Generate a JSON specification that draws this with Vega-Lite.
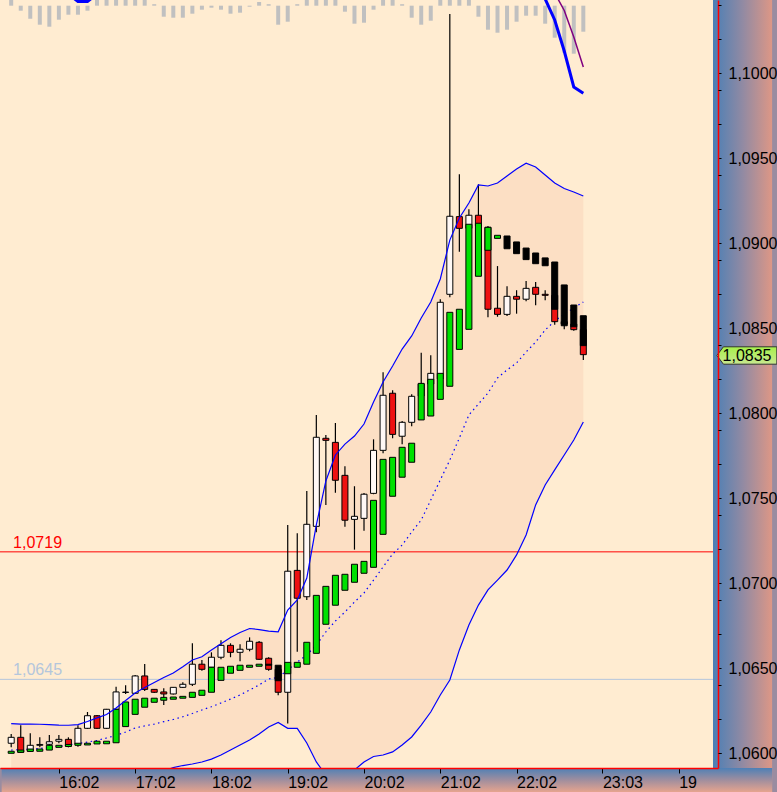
{
  "$schema": "https://vega.github.io/schema/vega-lite/v6.json",
  "width": 718,
  "height": 768,
  "autosize": {"type": "none"},
  "padding": {"left": 0, "top": 0, "right": 59, "bottom": 24},
  "background": "#9A8CA0",
  "view": {"fill": "#FFECD1", "stroke": null},
  "config": {"font": "Liberation Sans", "axis": {"labelOverlap": false}},
  "datasets": {
    "bars": [
      {"k":0,"o":1.06059,"h":1.06114,"l":1.06035,"c":1.06094,"bo":1.06000,"bc":1.06012,"u":1.06175,"m":1.06019,"lo":1.05861,"hi":10,"ib":25},
      {"k":1,"o":1.06094,"h":1.06165,"l":1.06002,"c":1.06006,"bo":1.06006,"bc":1.06019,"u":1.06172,"m":1.06022,"lo":1.05867,"hi":-5,"ib":22},
      {"k":2,"o":1.06014,"h":1.06118,"l":1.06008,"c":1.06047,"bo":1.06011,"bc":1.06025,"u":1.06172,"m":1.06025,"lo":1.05872,"hi":-13,"ib":20},
      {"k":3,"o":1.06047,"h":1.06094,"l":1.06035,"c":1.06052,"bo":1.06012,"bc":1.06025,"u":1.06171,"m":1.06029,"lo":1.05884,"hi":-19,"ib":18},
      {"k":4,"o":1.06053,"h":1.06108,"l":1.06043,"c":1.06068,"bo":1.06019,"bc":1.06047,"u":1.06169,"m":1.06034,"lo":1.05896,"hi":-21,"ib":16},
      {"k":5,"o":1.06071,"h":1.06108,"l":1.06059,"c":1.06082,"bo":1.06035,"bc":1.06047,"u":1.06166,"m":1.06040,"lo":1.05902,"hi":-14,"ib":14},
      {"k":6,"o":1.06082,"h":1.06094,"l":1.06035,"c":1.06043,"bo":1.06040,"bc":1.06052,"u":1.06165,"m":1.06049,"lo":1.05902,"hi":-9,"ib":11.7},
      {"k":7,"o":1.06053,"h":1.06165,"l":1.06039,"c":1.06147,"bo":1.06047,"bc":1.06059,"u":1.06169,"m":1.06058,"lo":1.05890,"hi":-9,"ib":4.2},
      {"k":8,"o":1.06147,"h":1.06243,"l":1.06143,"c":1.06221,"bo":1.06049,"bc":1.06059,"u":1.06187,"m":1.06066,"lo":1.05872,"hi":-5,"ib":4.2},
      {"k":9,"o":1.06221,"h":1.06225,"l":1.06143,"c":1.06147,"bo":1.06055,"bc":1.06071,"u":1.06208,"m":1.06076,"lo":1.05855,"hi":10,"ib":11.7},
      {"k":10,"o":1.06147,"h":1.06261,"l":1.06143,"c":1.06259,"bo":1.06056,"bc":1.06071,"u":1.06228,"m":1.06090,"lo":1.05837,"hi":10,"ib":25},
      {"k":11,"o":1.06259,"h":1.06392,"l":1.06255,"c":1.06361,"bo":1.06062,"bc":1.06259,"u":1.06267,"m":1.06105,"lo":1.05819,"hi":10,"ib":28},
      {"k":12,"o":1.06358,"h":1.06400,"l":1.06349,"c":1.06360,"bo":1.06157,"bc":1.06302,"u":1.06311,"m":1.06125,"lo":1.05814,"hi":10,"ib":30},
      {"k":13,"o":1.06353,"h":1.06461,"l":1.06349,"c":1.06455,"bo":1.06229,"bc":1.06318,"u":1.06355,"m":1.06149,"lo":1.05825,"hi":10,"ib":32},
      {"k":14,"o":1.06455,"h":1.06525,"l":1.06366,"c":1.06376,"bo":1.06271,"bc":1.06324,"u":1.06387,"m":1.06161,"lo":1.05843,"hi":10,"ib":30},
      {"k":15,"o":1.06376,"h":1.06378,"l":1.06355,"c":1.06359,"bo":1.06300,"bc":1.06324,"u":1.06417,"m":1.06172,"lo":1.05867,"hi":1.5,"ib":28},
      {"k":16,"o":1.06361,"h":1.06382,"l":1.06284,"c":1.06349,"bo":1.06312,"bc":1.06329,"u":1.06446,"m":1.06186,"lo":1.05896,"hi":-11,"ib":26},
      {"k":17,"o":1.06349,"h":1.06390,"l":1.06346,"c":1.06388,"bo":1.06318,"bc":1.06331,"u":1.06472,"m":1.06199,"lo":1.05916,"hi":-12,"ib":24},
      {"k":18,"o":1.06388,"h":1.06418,"l":1.06384,"c":1.06406,"bo":1.06324,"bc":1.06335,"u":1.06509,"m":1.06215,"lo":1.05928,"hi":-12,"ib":22},
      {"k":19,"o":1.06406,"h":1.06647,"l":1.06396,"c":1.06524,"bo":1.06329,"bc":1.06359,"u":1.06549,"m":1.06234,"lo":1.05937,"hi":-8,"ib":22},
      {"k":20,"o":1.06524,"h":1.06549,"l":1.06486,"c":1.06494,"bo":1.06341,"bc":1.06371,"u":1.06568,"m":1.06255,"lo":1.05949,"hi":-4,"ib":22},
      {"k":21,"o":1.06506,"h":1.06594,"l":1.06502,"c":1.06565,"bo":1.06359,"bc":1.06506,"u":1.06608,"m":1.06274,"lo":1.05966,"hi":-2,"ib":24},
      {"k":22,"o":1.06565,"h":1.06665,"l":1.06553,"c":1.06635,"bo":1.06429,"bc":1.06506,"u":1.06645,"m":1.06296,"lo":1.05990,"hi":-4,"ib":26},
      {"k":23,"o":1.06635,"h":1.06647,"l":1.06565,"c":1.06594,"bo":1.06471,"bc":1.06512,"u":1.06681,"m":1.06319,"lo":1.06019,"hi":-8,"ib":26},
      {"k":24,"o":1.06594,"h":1.06641,"l":1.06541,"c":1.06612,"bo":1.06488,"bc":1.06518,"u":1.06711,"m":1.06343,"lo":1.06049,"hi":-7,"ib":26},
      {"k":25,"o":1.06612,"h":1.06682,"l":1.06600,"c":1.06659,"bo":1.06506,"bc":1.06518,"u":1.06734,"m":1.06372,"lo":1.06078,"hi":-1,"ib":26},
      {"k":26,"o":1.06653,"h":1.06661,"l":1.06549,"c":1.06553,"bo":1.06512,"bc":1.06524,"u":1.06728,"m":1.06402,"lo":1.06114,"hi":3.7,"ib":26},
      {"k":27,"o":1.06559,"h":1.06565,"l":1.06486,"c":1.06494,"bo":1.06524,"bc":1.06518,"u":1.06719,"m":1.06437,"lo":1.06155,"hi":1.5,"ib":26},
      {"k":28,"o":1.06494,"h":1.06514,"l":1.06341,"c":1.06359,"bo":1.06518,"bc":1.06427,"u":1.06715,"m":1.06447,"lo":1.06181,"hi":-19,"ib":24},
      {"k":29,"o":1.06359,"h":1.07343,"l":1.06176,"c":1.07071,"bo":1.06468,"bc":1.06535,"u":1.06843,"m":1.06490,"lo":1.06147,"hi":-16,"ib":24},
      {"k":30,"o":1.07076,"h":1.07294,"l":1.06598,"c":1.06912,"bo":1.06506,"bc":1.06535,"u":1.06902,"m":1.06537,"lo":1.06147,"hi":1.5,"ib":26},
      {"k":31,"o":1.06921,"h":1.07543,"l":1.06902,"c":1.07347,"bo":1.06524,"bc":1.06653,"u":1.07031,"m":1.06578,"lo":1.06061,"hi":10,"ib":30},
      {"k":32,"o":1.07335,"h":1.07990,"l":1.07300,"c":1.07859,"bo":1.06588,"bc":1.06929,"u":1.07343,"m":1.06637,"lo":1.05949,"hi":10,"ib":34},
      {"k":33,"o":1.07853,"h":1.07872,"l":1.07461,"c":1.07841,"bo":1.06759,"bc":1.06982,"u":1.07602,"m":1.06714,"lo":1.05872,"hi":10,"ib":36},
      {"k":34,"o":1.07829,"h":1.07943,"l":1.07533,"c":1.07606,"bo":1.06871,"bc":1.07047,"u":1.07755,"m":1.06778,"lo":1.05843,"hi":10,"ib":36},
      {"k":35,"o":1.07635,"h":1.07688,"l":1.07333,"c":1.07371,"bo":1.06959,"bc":1.07053,"u":1.07819,"m":1.06831,"lo":1.05855,"hi":-6,"ib":34},
      {"k":36,"o":1.07376,"h":1.07571,"l":1.07198,"c":1.07394,"bo":1.07006,"bc":1.07112,"u":1.07866,"m":1.06890,"lo":1.05902,"hi":-18,"ib":32},
      {"k":37,"o":1.07382,"h":1.07531,"l":1.07309,"c":1.07524,"bo":1.07059,"bc":1.07129,"u":1.07937,"m":1.06943,"lo":1.05949,"hi":-17,"ib":30},
      {"k":38,"o":1.07529,"h":1.07847,"l":1.07524,"c":1.07782,"bo":1.07094,"bc":1.07488,"u":1.08066,"m":1.07019,"lo":1.05981,"hi":-4,"ib":30},
      {"k":39,"o":1.07782,"h":1.08241,"l":1.07765,"c":1.08106,"bo":1.07288,"bc":1.07729,"u":1.08184,"m":1.07096,"lo":1.05990,"hi":10,"ib":32},
      {"k":40,"o":1.08118,"h":1.08135,"l":1.07853,"c":1.07876,"bo":1.07512,"bc":1.07741,"u":1.08278,"m":1.07172,"lo":1.06008,"hi":10,"ib":34},
      {"k":41,"o":1.07865,"h":1.07955,"l":1.07818,"c":1.07947,"bo":1.07624,"bc":1.07800,"u":1.08378,"m":1.07225,"lo":1.06049,"hi":1.5,"ib":34},
      {"k":42,"o":1.07947,"h":1.08112,"l":1.07924,"c":1.08100,"bo":1.07712,"bc":1.07824,"u":1.08455,"m":1.07302,"lo":1.06096,"hi":-12,"ib":32},
      {"k":43,"o":1.08102,"h":1.08356,"l":1.08090,"c":1.08172,"bo":1.07961,"bc":1.08176,"u":1.08561,"m":1.07372,"lo":1.06166,"hi":-19,"ib":30},
      {"k":44,"o":1.08172,"h":1.08341,"l":1.08161,"c":1.08235,"bo":1.07984,"bc":1.08200,"u":1.08655,"m":1.07490,"lo":1.06243,"hi":-15,"ib":30},
      {"k":45,"o":1.08202,"h":1.08671,"l":1.08190,"c":1.08653,"bo":1.08082,"bc":1.08235,"u":1.08790,"m":1.07608,"lo":1.06343,"hi":10,"ib":32},
      {"k":46,"o":1.08700,"h":1.10349,"l":1.08682,"c":1.09159,"bo":1.08159,"bc":1.08594,"u":1.09019,"m":1.07725,"lo":1.06431,"hi":10,"ib":34},
      {"k":47,"o":1.09157,"h":1.09406,"l":1.08951,"c":1.09088,"bo":1.08376,"bc":1.08612,"u":1.09149,"m":1.07855,"lo":1.06608,"hi":10,"ib":36},
      {"k":48,"o":1.09088,"h":1.09200,"l":1.09072,"c":1.09165,"bo":1.08494,"bc":1.09112,"u":1.09237,"m":1.07990,"lo":1.06755,"hi":10,"ib":36},
      {"k":49,"o":1.09165,"h":1.09347,"l":1.09090,"c":1.09102,"bo":1.08806,"bc":1.09118,"u":1.09343,"m":1.08055,"lo":1.06872,"hi":-11,"ib":34},
      {"k":50,"o":1.09094,"h":1.09102,"l":1.08565,"c":1.08612,"bo":1.08959,"bc":1.09094,"u":1.09337,"m":1.08119,"lo":1.06961,"hi":-24,"ib":32},
      {"k":51,"o":1.08618,"h":1.08866,"l":1.08568,"c":1.08582,"bo":1.09029,"bc":1.09047,"u":1.09355,"m":1.08208,"lo":1.07019,"hi":-27,"ib":30},
      {"k":52,"o":1.08582,"h":1.08747,"l":1.08572,"c":1.08688,"bo":1.09043,"bc":1.08968,"u":1.09396,"m":1.08255,"lo":1.07078,"hi":-24,"ib":28},
      {"k":53,"o":1.08688,"h":1.08724,"l":1.08586,"c":1.08671,"bo":1.09008,"bc":1.08939,"u":1.09437,"m":1.08296,"lo":1.07167,"hi":-16,"ib":26},
      {"k":54,"o":1.08671,"h":1.08778,"l":1.08659,"c":1.08735,"bo":1.08972,"bc":1.08904,"u":1.09471,"m":1.08361,"lo":1.07284,"hi":-10,"ib":24},
      {"k":55,"o":1.08741,"h":1.08772,"l":1.08635,"c":1.08700,"bo":1.08943,"bc":1.08880,"u":1.09449,"m":1.08419,"lo":1.07461,"hi":-10,"ib":15},
      {"k":56,"o":1.08700,"h":1.08724,"l":1.08665,"c":1.08694,"bo":1.08914,"bc":1.08868,"u":1.09402,"m":1.08490,"lo":1.07578,"hi":-18,"ib":6.7,"ip":25},
      {"k":57,"o":1.08694,"h":1.08708,"l":1.08521,"c":1.08539,"bo":1.08890,"bc":1.08612,"u":1.09355,"m":1.08543,"lo":1.07667,"hi":-32,"ib":-14.3,"ip":12.7},
      {"k":58,"o":1.08539,"h":1.08561,"l":1.08494,"c":1.08525,"bo":1.08755,"bc":1.08515,"u":1.09322,"m":1.08584,"lo":1.07755,"hi":-47,"ib":-45.3,"ip":-4.8},
      {"k":59,"o":1.08525,"h":1.08549,"l":1.08486,"c":1.08492,"bo":1.08637,"bc":1.08509,"u":1.09302,"m":1.08619,"lo":1.07843,"hi":-48,"ib":-81.3,"ip":-31.3},
      {"k":60,"o":1.08492,"h":1.08549,"l":1.08314,"c":1.08345,"bo":1.08574,"bc":1.08398,"u":1.09278,"m":1.08655,"lo":1.07949,"hi":-26,"ib":-87.6,"ip":-61.3}
    ],
    "levels": [
      {"level": 1.07185, "label": "1,0719", "kind": "r"},
      {"level": 1.06435, "label": "1,0645", "kind": "g"}
    ],
    "last": [
      {"price": 1.0834, "label": "1,0835"}
    ]
  },
  "layer": [
    {
      "layer": [
        {
          "data": {"name": "bars"},
          "mark": {"type": "area", "clip": true, "color": "#FCDFC4"},
          "encoding": {
            "x": {"field": "k", "type": "quantitative",
              "scale": {"domain": [-0.65, 73.6], "nice": false, "zero": false},
              "axis": {"values": [5, 13, 21, 29, 37, 45, 53, 62, 70],
                "labelExpr": "datum.value == 5 ? '16:02' : datum.value == 13 ? '17:02' : datum.value == 21 ? '18:02' : datum.value == 29 ? '19:02' : datum.value == 37 ? '20:02' : datum.value == 45 ? '21:02' : datum.value == 53 ? '22:02' : datum.value == 62 ? '23:03' : datum.value == 70 ? '19' : ''",
                "title": null, "grid": false, "domainColor": "#FF0000", "domainWidth": 1.5,
                "tickColor": "#000000", "tickSize": 5, "tickWidth": 1,
                "labelFont": "Liberation Sans", "labelFontSize": 16, "labelColor": "#000000",
                "labelAlign": "left", "labelDx": 2, "labelPadding": 1, "labelBaseline": "top",
                "labelFlush": false, "labelOverlap": false, "labelBound": false, "zindex": 1}},
            "y": {"field": "u", "type": "quantitative",
              "scale": {"domain": [1.059135, 1.104312], "nice": false, "zero": false},
              "axis": {"orient": "right",
                "values": [1.060, 1.065, 1.070, 1.075, 1.080, 1.085, 1.090, 1.095, 1.100],
                "labelExpr": "replace(format(datum.value, '.4f'), '.', ',')",
                "title": null, "grid": false, "domainColor": "#FF0000", "domainWidth": 1.5,
                "tickColor": "#000000", "tickSize": 3, "tickWidth": 1,
                "labelFont": "Liberation Sans", "labelFontSize": 16, "labelColor": "#000000",
                "labelPadding": 7, "labelFlush": false, "labelOverlap": false, "labelBound": false, "zindex": 1}},
            "y2": {"field": "lo"}
          }
        },
        {
          "data": {"name": "levels"},
          "mark": {"type": "rule", "strokeWidth": 1},
          "encoding": {
            "y": {"field": "level", "type": "quantitative"},
            "color": {"field": "kind", "type": "nominal", "scale": {"domain": ["r", "g"], "range": ["#FF0000", "#B4C6DC"]}, "legend": null}
          }
        },
        {
          "data": {"name": "levels"},
          "mark": {"type": "text", "align": "left", "baseline": "alphabetic", "dy": -4, "fontSize": 16, "font": "Liberation Sans"},
          "encoding": {
            "x": {"datum": 0.2},
            "y": {"field": "level", "type": "quantitative"},
            "text": {"field": "label"},
            "color": {"field": "kind", "type": "nominal", "legend": null}
          }
        },
        {
          "data": {"name": "bars"},
          "mark": {"type": "line", "clip": true, "color": "#0000FF", "strokeWidth": 1.2, "strokeDash": [1.5, 3.5]},
          "encoding": {
            "x": {"field": "k", "type": "quantitative"},
            "y": {"field": "m", "type": "quantitative"}
          }
        },
        {
          "data": {"name": "bars"},
          "mark": {"type": "rule", "color": "#000000", "strokeWidth": 1.2, "clip": true},
          "encoding": {
            "x": {"field": "k", "type": "quantitative"},
            "y": {"field": "l", "type": "quantitative"},
            "y2": {"field": "h"}
          }
        },
        {
          "data": {"name": "bars"},
          "mark": {"type": "bar", "size": 6, "stroke": "#000000", "strokeWidth": 1, "clip": true},
          "encoding": {
            "x": {"field": "k", "type": "quantitative"},
            "y": {"field": "o", "type": "quantitative"},
            "y2": {"field": "c"},
            "fill": {"condition": {"test": "datum.c < datum.o", "value": "#EE1111"}, "value": "#FFF8F5"}
          }
        },
        {
          "data": {"name": "bars"},
          "mark": {"type": "bar", "size": 6, "stroke": "#000000", "strokeWidth": 1, "clip": true},
          "encoding": {
            "x": {"field": "k", "type": "quantitative"},
            "y": {"field": "bo", "type": "quantitative"},
            "y2": {"field": "bc"},
            "fill": {"condition": {"test": "datum.bc > datum.bo", "value": "#00E000"}, "value": "#000000"}
          }
        },
        {
          "data": {"name": "bars"},
          "mark": {"type": "line", "clip": true, "color": "#0000FF", "strokeWidth": 1.2},
          "encoding": {
            "x": {"field": "k", "type": "quantitative"},
            "y": {"field": "u", "type": "quantitative"}
          }
        },
        {
          "data": {"name": "bars"},
          "mark": {"type": "line", "clip": true, "color": "#0000FF", "strokeWidth": 1.2},
          "encoding": {
            "x": {"field": "k", "type": "quantitative"},
            "y": {"field": "lo", "type": "quantitative"}
          }
        },
        {
          "data": {"name": "last"},
          "mark": {"type": "rect", "clip": false,
            "fill": {"gradient": "linear", "x1": 0, "y1": 0, "x2": 1, "y2": 0,
              "stops": [{"offset": 0, "color": "#4A7FB6"}, {"offset": 0.5, "color": "#918AA3"}, {"offset": 1, "color": "#DD9786"}]}},
          "encoding": {
            "x": {"datum": 73.6},
            "x2": {"datum": 79.8},
            "y": {"datum": 1.10445},
            "y2": {"datum": 1.05772}
          }
        },
        {
          "data": {"name": "last"},
          "mark": {"type": "rect", "clip": false,
            "fill": {"gradient": "linear", "x1": 0, "y1": 0, "x2": 0, "y2": 1,
              "stops": [{"offset": 0, "color": "#4E80B6"}, {"offset": 0.5, "color": "#A08E9E"}, {"offset": 1, "color": "#E6A48E"}]}},
          "encoding": {
            "x": {"datum": -1},
            "x2": {"datum": 79.8},
            "y": {"datum": 1.059135},
            "y2": {"datum": 1.05772}
          }
        }
      ]
    },
    {
      "layer": [
        {
          "data": {"name": "bars"},
          "mark": {"type": "bar", "size": 4, "color": "#C0C0C0", "clip": true},
          "encoding": {
            "x": {"field": "k", "type": "quantitative"},
            "y": {"field": "hi", "type": "quantitative", "scale": {"domain": [-762.3, 5.7], "nice": false, "zero": false}, "axis": null},
            "y2": {"datum": 0}
          }
        },
        {
          "data": {"name": "bars"},
          "mark": {"type": "line", "clip": true, "color": "#0000FF", "strokeWidth": 3},
          "encoding": {
            "x": {"field": "k", "type": "quantitative"},
            "y": {"field": "ib", "type": "quantitative"}
          }
        },
        {
          "data": {"name": "bars"},
          "transform": [{"filter": "isValid(datum.ip)"}],
          "mark": {"type": "line", "clip": true, "color": "#800080", "strokeWidth": 1.5},
          "encoding": {
            "x": {"field": "k", "type": "quantitative"},
            "y": {"field": "ip", "type": "quantitative"}
          }
        }
      ]
    },
    {
      "layer": [
        {
          "data": {"name": "last"},
          "mark": {"type": "point", "clip": false, "filled": true, "opacity": 1,
            "shape": "M -1 0 L -0.78 -0.29 L 1 -0.29 L 1 0.29 L -0.78 0.29 Z",
            "size": 3600, "stroke": "#333333", "strokeWidth": 1,
            "fill": {"gradient": "linear", "x1": 0, "y1": 0, "x2": 0, "y2": 1,
              "stops": [{"offset": 0, "color": "#A6F04A"}, {"offset": 1, "color": "#C8E890"}]}},
          "encoding": {
            "x": {"datum": 77.15},
            "y": {"field": "price", "type": "quantitative",
              "scale": {"domain": [1.059135, 1.104312], "nice": false, "zero": false},
              "axis": {"orient": "right",
                "values": [1.060,1.061,1.062,1.063,1.064,1.066,1.067,1.068,1.069,1.071,1.072,1.073,1.074,1.076,1.077,1.078,1.079,1.081,1.082,1.083,1.084,1.086,1.087,1.088,1.089,1.091,1.092,1.093,1.094,1.096,1.097,1.098,1.099,1.101,1.102,1.103,1.104],
                "labels": false, "domain": false, "title": null, "grid": false,
                "tickColor": "#000000", "tickSize": 3, "tickWidth": 1, "zindex": 1}}
          }
        },
        {
          "data": {"name": "last"},
          "mark": {"type": "text", "clip": false, "align": "left", "baseline": "middle", "dy": 1, "fontSize": 16, "font": "Liberation Sans", "color": "#000000"},
          "encoding": {
            "x": {"datum": 74.6},
            "y": {"field": "price", "type": "quantitative"},
            "text": {"field": "label"}
          }
        }
      ]
    }
  ],
  "resolve": {"scale": {"y": "independent"}}
}
